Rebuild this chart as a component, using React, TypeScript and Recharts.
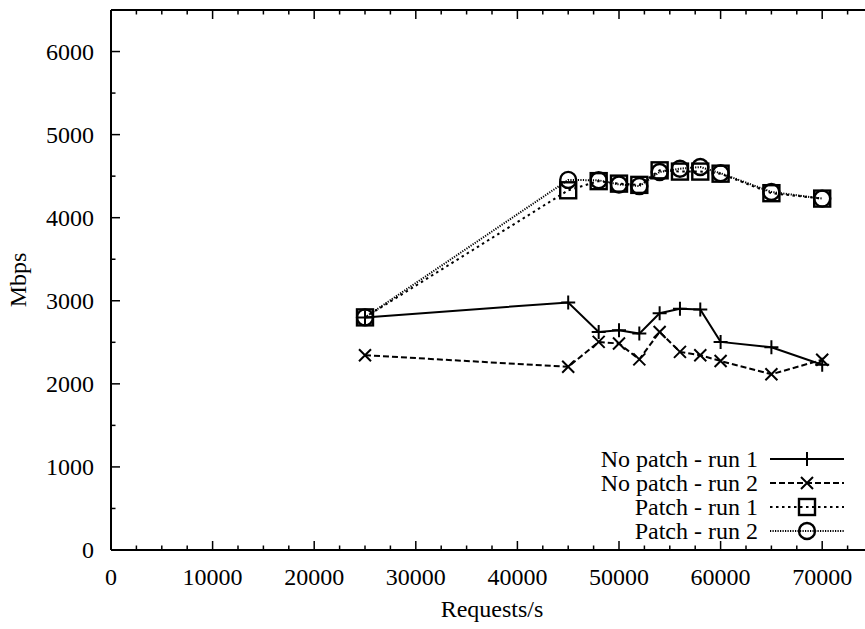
import { LineChart, Line, XAxis, YAxis, Legend } from "recharts"

// Requests/s sampled in every run
const requests = [25000, 45000, 48000, 50000, 52000, 54000, 56000, 58000, 60000, 65000, 70000]

// Mbps
const noPatchRun1 = [2800, 2980, 2625, 2645, 2605, 2850, 2905, 2895, 2505, 2440, 2230]
const noPatchRun2 = [2345, 2205, 2505, 2485, 2295, 2625, 2385, 2345, 2275, 2115, 2290]
const patchRun1 = [2800, 4330, 4440, 4410, 4395, 4570, 4555, 4555, 4530, 4295, 4230]
const patchRun2 = [2800, 4455, 4450, 4400, 4380, 4550, 4590, 4610, 4535, 4310, 4230]

const xTicks = [0, 2500, 5000, 7500, 10000, 12500, 15000, 17500, 20000, 22500, 25000, 27500, 30000, 32500, 35000, 37500, 40000, 42500, 45000, 47500, 50000, 52500, 55000, 57500, 60000, 62500, 65000, 67500, 70000, 72500, 75000]
const xLabels = [0, 10000, 20000, 30000, 40000, 50000, 60000, 70000]
const yTicks = [0, 500, 1000, 1500, 2000, 2500, 3000, 3500, 4000, 4500, 5000, 5500, 6000, 6500]
const yLabels = [0, 1000, 2000, 3000, 4000, 5000, 6000]

const data = requests.map((r, i) => ({
  requests: r,
  np1: noPatchRun1[i],
  np2: noPatchRun2[i],
  p1: patchRun1[i],
  p2: patchRun2[i],
}))

const FONT = "Liberation Serif, Times New Roman, Times, DejaVu Serif, serif"
const FS = 24
const txt = { fontFamily: FONT, fontSize: FS }

type MarkProps = { cx: number; cy: number }

function Plus({ cx, cy }: MarkProps) {
  return <path d={`M${cx - 7},${cy}H${cx + 7}M${cx},${cy - 7}V${cy + 7}`} stroke="#000" strokeWidth={2} fill="none" />
}
function Cross({ cx, cy }: MarkProps) {
  return <path d={`M${cx - 6},${cy - 6}L${cx + 6},${cy + 6}M${cx - 6},${cy + 6}L${cx + 6},${cy - 6}`} stroke="#000" strokeWidth={2} fill="none" />
}
function Square({ cx, cy }: MarkProps) {
  return <rect x={cx - 8} y={cy - 8} width={16} height={16} stroke="#000" strokeWidth={2.4} fill="none" />
}
function Circle({ cx, cy }: MarkProps) {
  return <circle cx={cx} cy={cy} r={8} stroke="#000" strokeWidth={2.4} fill="none" />
}

const series = [
  { key: "np1", name: "No patch - run 1", dash: undefined, width: 2, Mark: Plus },
  { key: "np2", name: "No patch - run 2", dash: "6 3", width: 2, Mark: Cross },
  { key: "p1", name: "Patch - run 1", dash: "2.5 3.5", width: 2, Mark: Square },
  { key: "p2", name: "Patch - run 2", dash: "1.2 1.3", width: 2, Mark: Circle },
]

function BottomTick(props: any) {
  const { x, y, payload } = props
  const major = xLabels.includes(payload.value)
  return (
    <g>
      <line x1={x} y1={y} x2={x} y2={y - (major ? 9 : 4.5)} stroke="#000" strokeWidth={1.5} />
      {major && (
        <text x={x} y={y + 35} textAnchor="middle" style={txt} fill="#000">
          {payload.value}
        </text>
      )}
    </g>
  )
}

function TopTick(props: any) {
  const { x, y, payload } = props
  const major = xLabels.includes(payload.value)
  return <line x1={x} y1={y} x2={x} y2={y + (major ? 9 : 4.5)} stroke="#000" strokeWidth={1.5} />
}

function LeftTick(props: any) {
  const { x, y, payload } = props
  const major = yLabels.includes(payload.value)
  return (
    <g>
      <line x1={x} y1={y} x2={x + (major ? 9 : 4.5)} y2={y} stroke="#000" strokeWidth={1.5} />
      {major && (
        <text x={x - 17} y={y + 8} textAnchor="end" style={txt} fill="#000">
          {payload.value}
        </text>
      )}
    </g>
  )
}

function KeyBox(props: any) {
  const items = props.payload || []
  return (
    <div style={{ ...txt, color: "#000" }}>
      {items.map((item: any) => {
        const s = series.find((d) => d.name === item.value)
        if (!s) return null
        const Mark = s.Mark
        return (
          <div key={s.key} style={{ display: "flex", alignItems: "center", height: 24 }}>
            <span style={{ width: 198, textAlign: "right", lineHeight: "24px", whiteSpace: "nowrap" }}>{s.name}</span>
            <svg width={90} height={24} style={{ display: "block" }}>
              <line x1={12} y1={12} x2={86} y2={12} stroke="#000" strokeWidth={s.width} strokeDasharray={s.dash} />
              <Mark cx={49} cy={12} />
            </svg>
          </div>
        )
      })}
    </div>
  )
}

export default function App() {
  return (
    <div
      style={{
        position: "fixed",
        left: 0,
        top: 0,
        width: 865,
        height: 629,
        overflow: "hidden",
        background: "#fff",
        fontFamily: FONT,
      }}
    >
      <LineChart width={900} height={629} data={data} margin={{ top: 0, right: 27, bottom: 0, left: 0 }} style={{ fontFamily: FONT }}>
        <XAxis
          dataKey="requests"
          type="number"
          domain={[0, 75000]}
          ticks={xTicks}
          interval={0}
          height={79}
          tickSize={0}
          tickMargin={0}
          tickLine={false}
          tick={<BottomTick />}
          axisLine={{ stroke: "#000", strokeWidth: 2 }}
          label={{ value: "Requests/s", position: "insideBottom", offset: 12, fill: "#000", style: txt }}
        />
        <XAxis
          xAxisId="top"
          orientation="top"
          dataKey="requests"
          type="number"
          domain={[0, 75000]}
          ticks={xTicks}
          interval={0}
          height={10}
          tickSize={0}
          tickMargin={0}
          tickLine={false}
          tick={<TopTick />}
          axisLine={{ stroke: "#000", strokeWidth: 2 }}
        />
        <YAxis
          type="number"
          domain={[0, 6500]}
          ticks={yTicks}
          interval={0}
          width={111}
          tickSize={0}
          tickMargin={0}
          tickLine={false}
          tick={<LeftTick />}
          axisLine={{ stroke: "#000", strokeWidth: 2 }}
          label={{
            value: "Mbps",
            angle: -90,
            position: "insideLeft",
            offset: 17,
            fill: "#000",
            style: { ...txt, textAnchor: "middle" },
          }}
        />
        <Legend
          layout="vertical"
          align="center"
          verticalAlign="middle"
          wrapperStyle={{ left: 560, top: 447, width: 300 }}
          content={<KeyBox />}
        />
        {series.map((s) => (
          <Line
            key={s.key}
            dataKey={s.key}
            name={s.name}
            type="linear"
            stroke="#000"
            strokeWidth={s.width}
            strokeDasharray={s.dash}
            dot={(p: any) => <s.Mark key={`${s.key}-${p.index}`} cx={p.cx} cy={p.cy} />}
            activeDot={false}
            isAnimationActive={false}
          />
        ))}
      </LineChart>
    </div>
  )
}
